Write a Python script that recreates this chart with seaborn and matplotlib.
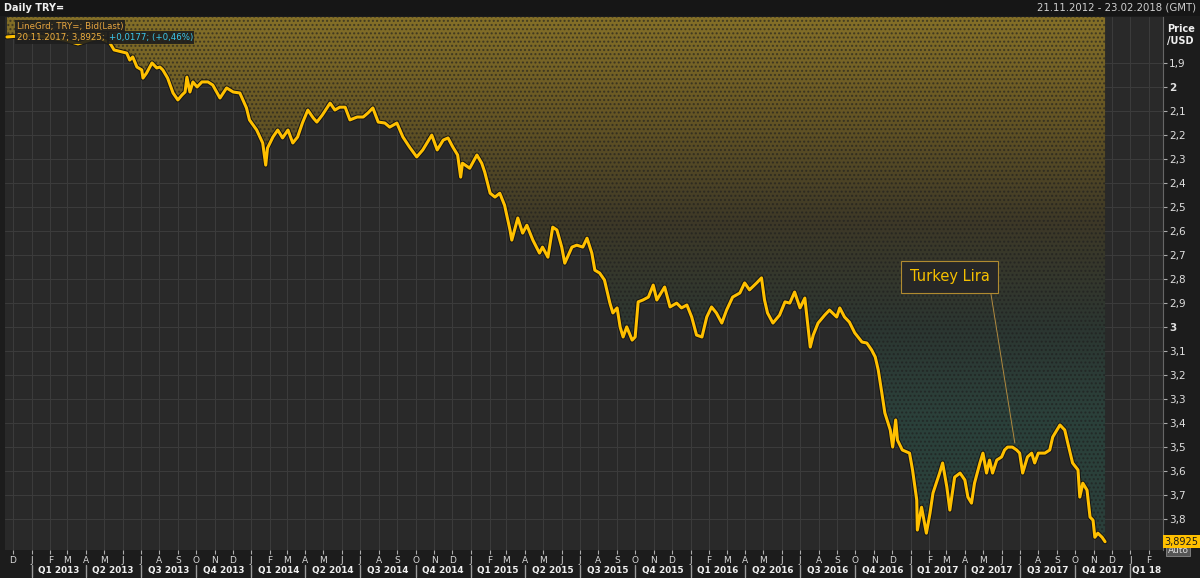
import matplotlib
matplotlib.use('Agg')
import matplotlib.pyplot as plt
import matplotlib.dates as mdates
import matplotlib.patheffects as pe
from matplotlib.colors import LinearSegmentedColormap
from matplotlib.patches import Polygon, Rectangle
from matplotlib.lines import Line2D
from matplotlib.transforms import blended_transform_factory
import numpy as np
import pandas as pd
import seaborn as sns

# USD/TRY bid (last)
dates_2013 = ['2012-11-21', '2012-12-12', '2013-01-06', '2013-01-31', '2013-02-25', '2013-03-19', '2013-04-08',
              '2013-04-24', '2013-05-11', '2013-05-18', '2013-06-08', '2013-06-13', '2013-06-18', '2013-06-25',
              '2013-07-03', '2013-07-05', '2013-07-11', '2013-07-20', '2013-07-28', '2013-08-02', '2013-08-07',
              '2013-08-15', '2013-08-24', '2013-09-01', '2013-09-08', '2013-09-13', '2013-09-16', '2013-09-21',
              '2013-09-26', '2013-10-03', '2013-10-11', '2013-10-21', '2013-10-29', '2013-11-10', '2013-11-21',
              '2013-12-02', '2013-12-13', '2013-12-24', '2013-12-29']
rate_2013 = [1.793, 1.789, 1.785, 1.797, 1.806, 1.822, 1.806, 1.797, 1.818, 1.847,
             1.860, 1.889, 1.876, 1.918, 1.930, 1.964, 1.943, 1.901, 1.922, 1.918,
             1.930, 1.964, 2.026, 2.055, 2.034, 2.022, 1.960, 2.022, 1.980, 2.001,
             1.980, 1.980, 1.993, 2.047, 2.005, 2.022, 2.026, 2.088, 2.138]

dates_2014 = ['2014-01-10', '2014-01-20', '2014-01-25', '2014-01-28', '2014-02-06', '2014-02-14', '2014-02-22',
              '2014-03-03', '2014-03-11', '2014-03-19', '2014-03-27', '2014-04-05', '2014-04-14', '2014-04-20',
              '2014-04-29', '2014-05-12', '2014-05-20', '2014-05-28', '2014-06-06', '2014-06-14', '2014-06-26',
              '2014-07-06', '2014-07-14', '2014-07-22', '2014-07-31', '2014-08-11', '2014-08-19', '2014-08-31',
              '2014-09-10', '2014-09-21', '2014-10-03', '2014-10-13', '2014-10-28', '2014-11-06', '2014-11-16',
              '2014-11-24', '2014-12-02', '2014-12-10', '2014-12-15', '2014-12-18', '2014-12-30']
rate_2014 = [2.180, 2.234, 2.326, 2.255, 2.209, 2.180, 2.213, 2.180, 2.234, 2.209,
             2.151, 2.097, 2.130, 2.147, 2.118, 2.068, 2.097, 2.085, 2.085, 2.138,
             2.126, 2.126, 2.109, 2.088, 2.147, 2.151, 2.168, 2.151, 2.209, 2.251,
             2.292, 2.263, 2.201, 2.263, 2.222, 2.213, 2.251, 2.284, 2.376, 2.318,
             2.339]

dates_2015 = ['2015-01-11', '2015-01-19', '2015-01-24', '2015-02-02', '2015-02-10', '2015-02-18', '2015-02-26',
              '2015-03-07', '2015-03-10', '2015-03-20', '2015-03-28', '2015-04-04', '2015-04-14', '2015-04-25',
              '2015-04-30', '2015-05-09', '2015-05-17', '2015-05-24', '2015-06-01', '2015-06-06', '2015-06-18',
              '2015-06-26', '2015-07-06', '2015-07-13', '2015-07-21', '2015-07-26', '2015-08-03', '2015-08-11',
              '2015-08-20', '2015-08-25', '2015-09-01', '2015-09-06', '2015-09-11', '2015-09-17', '2015-09-26',
              '2015-10-01', '2015-10-06', '2015-10-14', '2015-10-23', '2015-10-31', '2015-11-06', '2015-11-14',
              '2015-11-19', '2015-11-28', '2015-12-09', '2015-12-17', '2015-12-26']
rate_2015 = [2.284, 2.318, 2.355, 2.443, 2.459, 2.443, 2.493, 2.596, 2.638, 2.546,
             2.609, 2.576, 2.638, 2.692, 2.667, 2.709, 2.584, 2.596, 2.667, 2.734,
             2.667, 2.659, 2.667, 2.630, 2.692, 2.763, 2.775, 2.804, 2.900, 2.941,
             2.920, 2.999, 3.041, 2.999, 3.054, 3.041, 2.895, 2.887, 2.875, 2.825,
             2.887, 2.854, 2.833, 2.916, 2.900, 2.920, 2.908]

dates_2016 = ['2016-01-03', '2016-01-11', '2016-01-20', '2016-01-28', '2016-02-05', '2016-02-13', '2016-02-22',
              '2016-03-01', '2016-03-11', '2016-03-23', '2016-03-31', '2016-04-08', '2016-04-20', '2016-04-28',
              '2016-05-03', '2016-05-08', '2016-05-17', '2016-05-28', '2016-06-06', '2016-06-14', '2016-06-22',
              '2016-07-01', '2016-07-09', '2016-07-18', '2016-07-23', '2016-07-31', '2016-08-11', '2016-08-19',
              '2016-08-31', '2016-09-05', '2016-09-13', '2016-09-21', '2016-09-30', '2016-10-12', '2016-10-20',
              '2016-10-28', '2016-11-03', '2016-11-08', '2016-11-14', '2016-11-19', '2016-11-28', '2016-12-02',
              '2016-12-07', '2016-12-10', '2016-12-18', '2016-12-30']
rate_2016 = [2.958, 3.033, 3.041, 2.958, 2.916, 2.941, 2.983, 2.929, 2.875, 2.858,
             2.816, 2.845, 2.816, 2.795, 2.887, 2.941, 2.983, 2.950, 2.895, 2.900,
             2.854, 2.920, 2.879, 3.083, 3.033, 2.983, 2.950, 2.929, 2.958, 2.920,
             2.958, 2.979, 3.024, 3.062, 3.066, 3.095, 3.124, 3.178, 3.274, 3.357,
             3.428, 3.499, 3.386, 3.470, 3.511, 3.524]

dates_2017 = ['2017-01-04', '2017-01-11', '2017-01-12', '2017-01-19', '2017-01-27', '2017-02-02', '2017-02-07',
              '2017-02-18', '2017-02-23', '2017-03-02', '2017-03-07', '2017-03-15', '2017-03-24', '2017-04-01',
              '2017-04-06', '2017-04-12', '2017-04-17', '2017-04-26', '2017-05-01', '2017-05-07', '2017-05-12',
              '2017-05-17', '2017-05-24', '2017-06-01', '2017-06-06', '2017-06-11', '2017-06-19', '2017-06-26',
              '2017-07-01', '2017-07-06', '2017-07-14', '2017-07-21', '2017-07-26', '2017-08-01', '2017-08-12',
              '2017-08-20', '2017-08-25', '2017-09-06', '2017-09-14', '2017-09-19', '2017-09-27', '2017-10-06',
              '2017-10-09', '2017-10-14', '2017-10-21', '2017-10-26', '2017-10-31', '2017-11-03', '2017-11-08',
              '2017-11-15', '2017-11-20']
rate_2017 = [3.594, 3.719, 3.844, 3.749, 3.857, 3.774, 3.690, 3.607, 3.565, 3.665,
             3.761, 3.624, 3.607, 3.636, 3.707, 3.732, 3.649, 3.565, 3.524, 3.607,
             3.553, 3.607, 3.553, 3.540, 3.511, 3.499, 3.499, 3.511, 3.524, 3.607,
             3.540, 3.524, 3.565, 3.524, 3.524, 3.511, 3.457, 3.407, 3.428, 3.482,
             3.565, 3.594, 3.707, 3.649, 3.678, 3.790, 3.803, 3.874, 3.857, 3.874,
             3.8925]

y_ticks = [1.9, 2.0, 2.1, 2.2, 2.3, 2.4, 2.5, 2.6, 2.7, 2.8, 2.9, 3.0, 3.1, 3.2, 3.3, 3.4, 3.5, 3.6, 3.7, 3.8]
month_letters = ['J', 'F', 'M', 'A', 'M', 'J', 'J', 'A', 'S', 'O', 'N', 'D']
last_label = '3,8925'

df = pd.DataFrame({
    'date': pd.to_datetime(dates_2013 + dates_2014 + dates_2015 + dates_2016 + dates_2017),
    'rate': rate_2013 + rate_2014 + rate_2015 + rate_2016 + rate_2017,
})

sns.set_style('dark', rc={'axes.facecolor': '#292929', 'figure.facecolor': '#1c1c1c',
                          'grid.color': '#3b3b3b', 'axes.edgecolor': '#555555'})
plt.rcParams['font.family'] = ['DejaVu Sans']

W, H = 1200, 578
fig = plt.figure(figsize=(12, 5.78), dpi=100)
ax = fig.add_axes([5 / W, 1 - 550 / H, (1163 - 5) / W, (550 - 17) / H])

xlo = pd.Timestamp('2012-12-01') - pd.Timedelta(days=8 / 0.6017)
xhi = pd.Timestamp('2018-02-01') + pd.Timedelta(days=14 / 0.6017)
ytop, ybot = 1.71, 3.927

# gradient fill above the line
cmap = LinearSegmentedColormap.from_list('eikon', [
    (0.0, '#857028'), (0.18, '#665624'), (0.38, '#3e3927'),
    (0.58, '#2c3631'), (0.75, '#2b413b'), (1.0, '#2a3f3a')])
grad = np.linspace(0, 1, 256).reshape(-1, 1)
xn = mdates.date2num(df['date'])
img = ax.imshow(grad, cmap=cmap, aspect='auto', origin='upper',
                extent=(mdates.date2num(xlo), mdates.date2num(xhi), ybot, ytop), zorder=1)
verts = list(zip(xn, df['rate'])) + [(xn[-1], ytop), (xn[0], ytop)]
clip = Polygon(verts, closed=True, transform=ax.transData, facecolor='none', edgecolor='none')
ax.add_patch(clip)
img.set_clip_path(clip)
hatch = Polygon(verts, closed=True, facecolor='none', edgecolor='#1e1e1e', hatch='....', lw=0, zorder=1.5, alpha=0.6)
ax.add_patch(hatch)

sns.lineplot(data=df, x='date', y='rate', ax=ax, color='#ffc000', lw=2.2, zorder=3,
             path_effects=[pe.Stroke(linewidth=3.6, foreground='#141414'), pe.Normal()])

ax.set_xlim(xlo, xhi)
ax.set_ylim(ybot, ytop)
ax.set_xlabel('')
ax.set_ylabel('')

# y axis on the right
ax.yaxis.tick_right()
ax.set_yticks(y_ticks)
ylabels = [('%g' % v).replace('.', ',') for v in y_ticks]
ax.set_yticklabels(ylabels)
ax.tick_params(axis='y', right=True, length=3, width=0.8, color='#aaaaaa', labelcolor='#e0e0e0',
               labelsize=7.5, pad=1.5)
for t in ax.get_yticklabels():
    if t.get_text() in ('2', '3'):
        t.set_fontweight('bold')

# x axis: month letters
months = pd.date_range('2012-12-01', '2018-02-01', freq='MS')
ax.set_xticks(months)
ax.set_xticklabels([month_letters[m.month - 1] for m in months])
ax.tick_params(axis='x', bottom=True, length=3, width=0.8, color='#aaaaaa', labelcolor='#d8d8d8',
               labelsize=6.5, pad=1.2)

ax.grid(True, color='#3b3b3b', lw=0.8)
for s in ['top', 'left', 'bottom']:
    ax.spines[s].set_visible(False)
ax.spines['right'].set_color('#666666')

# quarter row
trans = blended_transform_factory(ax.transData, fig.transFigure)
qstarts = pd.date_range('2013-01-01', '2018-01-01', freq='QS')
for q in qstarts:
    qend = min(q + pd.offsets.QuarterBegin(startingMonth=1), xhi)
    mid = q + (qend - q) / 2
    lab = 'Q%d %d' % ((q.month - 1) // 3 + 1, q.year)
    if q.year == 2018:
        lab = 'Q1 18'
    ax.text(mid, 1 - 571 / H, lab, transform=trans, ha='center', va='center', fontsize=6.4,
            fontweight='bold', color='#f0f0f0', clip_on=False)
    ax.add_line(Line2D([q, q], [1 - 565 / H, 1 - 577 / H], transform=trans, color='#9a9a9a',
                       lw=1.0, clip_on=False))

# header
fig.patches.append(Rectangle((0, 1 - 16 / H), 1, 16 / H, transform=fig.transFigure,
                             facecolor='#161616', edgecolor='none', zorder=0))
fig.text(4 / W, 1 - 8 / H, 'Daily TRY=', fontsize=7, fontweight='bold', color='#f0f0f0', va='center')
fig.text(1196 / W, 1 - 8 / H, '21.11.2012 - 23.02.2018 (GMT)', fontsize=7.3, color='#d0d0d0',
         va='center', ha='right')
fig.text(1167 / W, 1 - 35 / H, 'Price\n/USD', fontsize=7, fontweight='bold', color='#f0f0f0',
         va='center', ha='left', linespacing=1.3)

# legend lines
box = dict(facecolor='#1e1e1e', edgecolor='none', pad=1.2, alpha=0.9)
fig.text(17 / W, 1 - 26 / H, 'LineGrd; TRY=; Bid(Last)', fontsize=6.2, color='#e8a640', va='center', bbox=box)
t1 = fig.text(17 / W, 1 - 37.5 / H, '20.11.2017; 3,8925; ', fontsize=6.2, color='#f0b040', va='center', bbox=box)
renderer = fig.canvas.get_renderer()
x_end = t1.get_window_extent(renderer).x1
fig.text(x_end / W + 1 / W, 1 - 37.5 / H, '+0,0177; (+0,46%)', fontsize=6.2, color='#3cc8ec', va='center', bbox=box)

# last value tag
ty = blended_transform_factory(ax.transAxes, ax.transData)
ax.text(1.004, df['rate'].iloc[-1] + 0.035, 'Auto', transform=ty, fontsize=6.5, color='#dddddd',
        va='center', ha='left', clip_on=False,
        bbox=dict(facecolor='#555555', edgecolor='#888888', pad=1.0, lw=0.6))
ax.text(1.001, df['rate'].iloc[-1], last_label, transform=ty, fontsize=7, color='#1a1a1a',
        va='center', ha='left', clip_on=False,
        bbox=dict(facecolor='#ffc000', edgecolor='none', pad=1.2))

# annotation
ax.annotate('Turkey Lira', xy=(pd.Timestamp('2017-06-23'), 3.482),
            xytext=(949.5 / W, 1 - 277 / H), textcoords='figure fraction',
            ha='center', va='center', fontsize=10.5, color='#f5c000', zorder=5,
            bbox=dict(boxstyle='square,pad=0.6', facecolor='#272727', edgecolor='#b08a30', lw=0.8),
            arrowprops=dict(arrowstyle='-', color='#b08a40', lw=0.7, relpos=(1.0, 0.0),
                            shrinkA=0, shrinkB=0))

fig.savefig('out.png', dpi=100, facecolor=fig.get_facecolor())
